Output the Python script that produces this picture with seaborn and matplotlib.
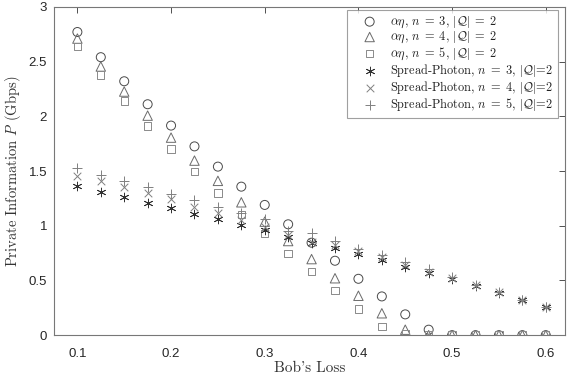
import numpy as np
import pandas as pd
import matplotlib
matplotlib.use("Agg")
import matplotlib.pyplot as plt
import seaborn as sns

bob_loss = [0.1, 0.125, 0.15, 0.175, 0.2, 0.225, 0.25, 0.275, 0.3, 0.325, 0.35,
            0.375, 0.4, 0.425, 0.45, 0.475, 0.5, 0.525, 0.55, 0.575, 0.6]

ae_n3 = [2.77, 2.54, 2.32, 2.11, 1.915, 1.725, 1.54, 1.357, 1.19, 1.013, 0.845,
         0.68, 0.515, 0.354, 0.19, 0.05, 0.0, 0.0, 0.0, 0.0, 0.0]
ae_n4 = [2.71, 2.455, 2.226, 2.006, 1.805, 1.595, 1.41, 1.214, 1.037, 0.86, 0.695,
         0.52, 0.36, 0.20, 0.05, 0.0, 0.0, 0.0, 0.0, 0.0, 0.0]
ae_n5 = [2.635, 2.376, 2.14, 1.91, 1.70, 1.494, 1.298, 1.104, 0.93, 0.747, 0.58,
         0.41, 0.24, 0.08, 0.01, 0.0, 0.0, 0.0, 0.0, 0.0, 0.0]
sp_n3 = [1.366, 1.311, 1.26, 1.21, 1.159, 1.11, 1.058, 1.006, 0.96, 0.90, 0.845,
         0.793, 0.741, 0.686, 0.619, 0.564, 0.51, 0.448, 0.387, 0.32, 0.253]
sp_n4 = [1.457, 1.41, 1.357, 1.296, 1.24, 1.175, 1.113, 1.05, 0.99, 0.915, 0.854,
         0.82, 0.77, 0.71, 0.645, 0.58, 0.52, 0.455, 0.39, 0.322, 0.255]
sp_n5 = [1.525, 1.464, 1.41, 1.35, 1.29, 1.235, 1.175, 1.113, 1.06, 0.95, 0.93,
         0.86, 0.79, 0.73, 0.67, 0.60, 0.53, 0.46, 0.392, 0.324, 0.257]

labels = [r"$\alpha\eta$, $n\;=\;3$, $|\mathcal{Q}|\;=\;2$",
          r"$\alpha\eta$, $n\;=\;4$, $|\mathcal{Q}|\;=\;2$",
          r"$\alpha\eta$, $n\;=\;5$, $|\mathcal{Q}|\;=\;2$",
          r"Spread-Photon, $n\;=\;3$, $|\mathcal{Q}|$=2",
          r"Spread-Photon, $n\;=\;4$, $|\mathcal{Q}|$=2",
          r"Spread-Photon, $n\;=\;5$, $|\mathcal{Q}|$=2"]
series = [ae_n3, ae_n4, ae_n5, sp_n3, sp_n4, sp_n5]

sns.set_style("white")
plt.rcParams["mathtext.fontset"] = "cm"
plt.rcParams["font.family"] = ["Liberation Sans", "DejaVu Sans"]

fig = plt.figure(figsize=(5.68, 3.8), dpi=100)
ax = fig.add_axes([0.095, 0.118, 0.9, 0.864])

styles = [
    dict(marker="o", facecolors="none", edgecolors="#4a4a4a", s=42, linewidths=0.7),
    dict(marker="^", facecolors="none", edgecolors="#6a6a6a", s=46, linewidths=0.7),
    dict(marker="s", facecolors="none", edgecolors="#8a8a8a", s=28, linewidths=0.7),
    dict(marker=(6, 2, 0), color="#333333", s=40, linewidths=0.6),
    dict(marker="x", color="#808080", s=30, linewidths=0.7),
    dict(marker="+", color="#808080", s=55, linewidths=0.7),
]

for lab, vals, st in zip(labels, series, styles):
    df = pd.DataFrame({"x": bob_loss, "y": vals})
    sns.scatterplot(data=df, x="x", y="y", ax=ax, label=lab, **st)

ax.set_xlim(0.075, 0.6207)
ax.set_ylim(0, 3)
ax.set_xticks([0.1, 0.2, 0.3, 0.4, 0.5, 0.6])
ax.set_xticklabels(["0.1", "0.2", "0.3", "0.4", "0.5", "0.6"])
ax.set_yticks([0, 0.5, 1, 1.5, 2, 2.5, 3])
ax.set_yticklabels(["0", "0.5", "1", "1.5", "2", "2.5", "3"])
ax.tick_params(direction="in", length=4, width=0.6, color="#333333",
               labelsize=9.5, top=True, right=True, pad=5)
ax.tick_params(axis="x", pad=9)
for sp in ax.spines.values():
    sp.set_color("#777777")
    sp.set_linewidth(0.8)

ax.set_xlabel("Bob's Loss", family="cmr10", fontsize=11, labelpad=1, color="#333333")
ax.set_ylabel(r"Private Information $P$ (Gbps)", family="cmr10", fontsize=10.5,
              labelpad=4, color="#333333")

leg = ax.legend(loc="upper right", bbox_to_anchor=(0.986, 0.991), borderaxespad=0,
                frameon=True, fancybox=False, edgecolor="#888888",
                handlelength=2.8, handletextpad=0.25, labelspacing=0.0,
                borderpad=0.4, prop={"family": "cmr10", "size": 8.9})
leg.get_frame().set_linewidth(0.8)
for t in leg.get_texts():
    t.set_color("#222222")

fig.savefig("out.png", dpi=100)
